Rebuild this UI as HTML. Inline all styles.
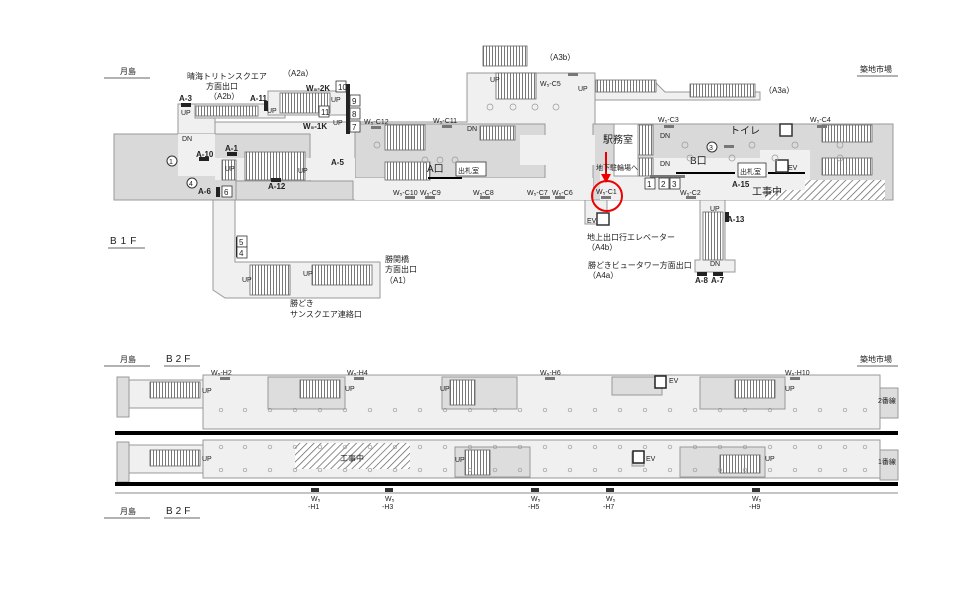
<!DOCTYPE html>
<html><head><meta charset="utf-8"><style>
html,body{margin:0;padding:0;background:#fff}
svg{display:block}
text{font-family:"Liberation Sans","Noto Sans CJK JP",sans-serif;fill:#222}
.s{font-size:7px}.m{font-size:8px}.b{font-size:8px;font-weight:bold}.l{font-size:10px}
</style></head><body>
<svg width="960" height="605" viewBox="0 0 960 605" xmlns="http://www.w3.org/2000/svg">
<defs>
<pattern id="h" width="5" height="5" patternUnits="userSpaceOnUse" patternTransform="rotate(45)"><rect width="5" height="5" fill="#fff"/><line x1="0" y1="0" x2="0" y2="5" stroke="#666" stroke-width="1.5"/></pattern>
<pattern id="st" width="3" height="10" patternUnits="userSpaceOnUse"><rect width="3" height="10" fill="#fff"/><line x1="0.5" y1="0" x2="0.5" y2="10" stroke="#555" stroke-width="0.8"/></pattern>
</defs>
<g fill="#f0f0f0" stroke="#999" stroke-width="1">
<rect x="178" y="104" width="37" height="72"/>
<rect x="195" y="104" width="90" height="14"/>
<rect x="268" y="91" width="80" height="24"/>
<path d="M467 73 H595 V124 H880 V200 H215 V122 H467 Z"/>
<path d="M595 82 H655 L665 92 H760 V100 H595 Z"/>
<path d="M213 200 H235 V262 H380 V298 H225 L213 290 Z"/>
<rect x="585" y="200" width="22" height="24"/>
<path d="M700 200 H725 V260 H735 V272 H695 V260 H700 Z"/>
</g>
<g fill="#d9d9d9" stroke="#999">
<rect x="114" y="134" width="196" height="66"/>
<rect x="236" y="181" width="117" height="19"/>
<rect x="355" y="124" width="190" height="54"/>
<rect x="593" y="124" width="300" height="76"/>
</g>
<g fill="#f0f0f0" stroke="none">
<rect x="178" y="134" width="37" height="42"/>
<rect x="215" y="158" width="140" height="22"/>
<rect x="355" y="178" width="238" height="22"/>
<rect x="520" y="135" width="75" height="30"/>
<rect x="640" y="158" width="120" height="12"/>
<rect x="600" y="170" width="170" height="30"/>
<rect x="760" y="150" width="50" height="30"/>
</g>
<rect x="765" y="180" width="120" height="20" fill="url(#h)" stroke="none"/>
<rect x="765" y="180" width="40" height="10" fill="#f0f0f0"/>
<g stroke="#666" stroke-width="0.8">
<rect x="196" y="106" width="62" height="10" fill="url(#st)"/>
<rect x="280" y="93" width="50" height="20" fill="url(#st)"/>
<rect x="245" y="152" width="60" height="28" fill="url(#st)"/>
<rect x="222" y="160" width="14" height="20" fill="url(#st)"/>
<rect x="250" y="265" width="40" height="30" fill="url(#st)"/>
<rect x="312" y="265" width="60" height="20" fill="url(#st)"/>
<rect x="385" y="125" width="40" height="25" fill="url(#st)"/>
<rect x="385" y="162" width="45" height="18" fill="url(#st)"/>
<rect x="480" y="126" width="35" height="14" fill="url(#st)"/>
<rect x="483" y="46" width="44" height="20" fill="url(#st)"/>
<rect x="496" y="73" width="40" height="26" fill="url(#st)"/>
<rect x="596" y="80" width="60" height="12" fill="url(#st)"/>
<rect x="690" y="84" width="65" height="13" fill="url(#st)"/>
<rect x="638" y="125" width="15" height="30" fill="url(#st)"/>
<rect x="638" y="158" width="15" height="18" fill="url(#st)"/>
<rect x="822" y="125" width="50" height="17" fill="url(#st)"/>
<rect x="822" y="158" width="50" height="17" fill="url(#st)"/>
<rect x="703" y="212" width="20" height="48" fill="url(#st)"/>
</g>
<rect x="614" y="124" width="24" height="52" fill="#fff" stroke="#999"/>
<path d="M676 173 H735 M768 173 H805" stroke="#000" stroke-width="2"/>
<path d="M428 178 H462" stroke="#000" stroke-width="2"/>
<g fill="#222">
<rect x="181" y="103" width="10" height="4"/><rect x="264" y="101" width="4" height="10"/>
<rect x="199" y="157" width="10" height="4"/><rect x="227" y="152" width="10" height="4"/>
<rect x="271" y="178" width="10" height="4"/><rect x="216" y="187" width="4" height="10"/>
<rect x="236" y="237" width="4" height="20"/><rect x="346" y="84" width="4" height="50"/>
<rect x="725" y="212" width="4" height="10"/><rect x="697" y="272" width="10" height="4"/><rect x="713" y="272" width="10" height="4"/>
</g>
<g fill="#777">
<rect x="371" y="126" width="10" height="3"/><rect x="442" y="125" width="10" height="3"/><rect x="568" y="73" width="10" height="3"/>
<rect x="405" y="196" width="10" height="3"/><rect x="425" y="196" width="10" height="3"/><rect x="480" y="196" width="10" height="3"/>
<rect x="540" y="196" width="10" height="3"/><rect x="555" y="196" width="10" height="3"/><rect x="601" y="196" width="10" height="3"/>
<rect x="686" y="196" width="10" height="3"/><rect x="664" y="125" width="10" height="3"/><rect x="817" y="125" width="10" height="3"/>
<rect x="650" y="175" width="35" height="3"/><rect x="724" y="145" width="10" height="3"/>
</g>
<g fill="#fff" stroke="#333" stroke-width="0.8">
<rect x="336" y="81" width="10" height="11"/><rect x="350" y="95" width="10" height="11"/><rect x="319" y="106" width="10" height="11"/>
<rect x="350" y="108" width="10" height="11"/><rect x="350" y="121" width="10" height="11"/><rect x="222" y="186" width="10" height="11"/>
<rect x="237" y="236" width="10" height="11"/><rect x="237" y="247" width="10" height="11"/>
<rect x="645" y="178" width="10" height="11"/><rect x="659" y="178" width="10" height="11"/><rect x="670" y="178" width="10" height="11"/>
<rect x="597" y="213" width="12" height="12" stroke-width="1.5"/><rect x="780" y="124" width="12" height="12" stroke-width="1.5"/><rect x="776" y="160" width="12" height="12" stroke-width="1.5"/>
<rect x="456" y="162" width="30" height="14"/><rect x="738" y="163" width="28" height="14"/>
</g>
<g class="m">
<text x="338" y="90">10</text><text x="352" y="104">9</text><text x="321" y="115">11</text><text x="352" y="117">8</text><text x="352" y="130">7</text>
<text x="224" y="195">6</text><text x="239" y="245">5</text><text x="239" y="256">4</text>
<text x="647" y="187">1</text><text x="661" y="187">2</text><text x="672" y="187">3</text>
</g>
<g fill="#fff" stroke="#333"><circle cx="172" cy="161" r="5"/><circle cx="192" cy="183" r="5"/><circle cx="712" cy="147" r="5"/></g>
<g class="s"><text x="169" y="164">1</text><text x="189" y="186">4</text><text x="709" y="150">3</text></g>
<circle cx="607" cy="196" r="15" fill="none" stroke="#e00" stroke-width="2"/>
<path d="M606 152 V176" stroke="#e00" stroke-width="2"/><path d="M601 174 L606 183 L611 174 Z" fill="#e00"/>
<g class="m">
<text x="120" y="74">月島</text><line x1="104" y1="78" x2="150" y2="78" stroke="#333" stroke-width="0.7"/>
<text x="187" y="79">晴海トリトンスクエア</text><text x="206" y="89">方面出口</text><text x="209" y="99">（A2b）</text>
<text x="283" y="76">（A2a）</text><text x="545" y="60">（A3b）</text><text x="764" y="93">（A3a）</text>
<text x="860" y="72">築地市場</text><line x1="857" y1="76" x2="898" y2="76" stroke="#333" stroke-width="0.7"/>
<text x="385" y="262">勝関橋</text><text x="385" y="272">方面出口</text><text x="385" y="283">（A1）</text>
<text x="290" y="306">勝どき</text><text x="290" y="317">サンスクエア連絡口</text>
<text x="587" y="240">地上出口行エレベーター</text><text x="587" y="250">（A4b）</text>
<text x="588" y="268">勝どきビュータワー方面出口</text><text x="588" y="278">（A4a）</text>
<text x="603" y="143" style="font-size:10px">駅務室</text><text x="730" y="134" style="font-size:10px">トイレ</text>
<text x="752" y="195" style="font-size:10px">工事中</text><text x="427" y="172" style="font-size:10px">A口</text><text x="690" y="164" style="font-size:10px">B口</text>
<text x="458" y="173" class="s">出札室</text><text x="740" y="174" class="s">出札室</text><text x="596" y="170" class="s">地下駐輪場へ</text>
<text x="181" y="115" class="s">UP</text><text x="267" y="113" class="s">UP</text><text x="331" y="102" class="s">UP</text><text x="333" y="125" class="s">UP</text>
<text x="182" y="141" class="s">DN</text><text x="225" y="171" class="s">UP</text><text x="298" y="173" class="s">UP</text>
<text x="242" y="282" class="s">UP</text><text x="303" y="276" class="s">UP</text><text x="467" y="131" class="s">DN</text><text x="490" y="82" class="s">UP</text><text x="578" y="91" class="s">UP</text>
<text x="660" y="138" class="s">DN</text><text x="660" y="166" class="s">DN</text><text x="788" y="170" class="s">EV</text><text x="587" y="223" class="s">EV</text>
<text x="710" y="211" class="s">UP</text><text x="710" y="266" class="s">DN</text>
<text x="110" y="244" style="font-size:10px;letter-spacing:4px">B1F</text><line x1="108" y1="248" x2="145" y2="248" stroke="#333" stroke-width="0.7"/>
</g>
<g class="b">
<text x="179" y="101">A-3</text><text x="250" y="101">A-11</text><text x="306" y="91">W₅-2K</text><text x="303" y="129">W₅-1K</text>
<text x="196" y="157">A-10</text><text x="225" y="151">A-1</text><text x="268" y="189">A-12</text><text x="198" y="194">A-6</text>
<text x="331" y="165">A-5</text><text x="732" y="187">A-15</text><text x="727" y="222">A-13</text><text x="695" y="283">A-8</text><text x="711" y="283">A-7</text>
</g>
<g class="s">
<text x="364" y="124">W₅-C12</text><text x="433" y="123">W₅-C11</text><text x="540" y="86">W₅-C5</text><text x="658" y="122">W₅-C3</text><text x="810" y="122">W₅-C4</text>
<text x="393" y="195">W₅-C10</text><text x="420" y="195">W₅-C9</text><text x="473" y="195">W₅-C8</text><text x="527" y="195">W₅-C7</text><text x="552" y="195">W₅-C6</text>
<text x="596" y="194">W₅-C1</text><text x="680" y="195">W₅-C2</text>
</g>
<g class="m">
<text x="120" y="362">月島</text><line x1="104" y1="366" x2="150" y2="366" stroke="#333" stroke-width="0.7"/>
<text x="166" y="362" style="font-size:10px;letter-spacing:3px">B2F</text><line x1="164" y1="366" x2="200" y2="366" stroke="#333" stroke-width="0.7"/>
<text x="860" y="362">築地市場</text><line x1="857" y1="366" x2="898" y2="366" stroke="#333" stroke-width="0.7"/>
<text x="120" y="514">月島</text><line x1="104" y1="518" x2="150" y2="518" stroke="#333" stroke-width="0.7"/>
<text x="166" y="514" style="font-size:10px;letter-spacing:3px">B2F</text><line x1="164" y1="518" x2="200" y2="518" stroke="#333" stroke-width="0.7"/>
</g>
<g fill="#f0f0f0" stroke="#999">
<rect x="203" y="375" width="677" height="54"/>
<rect x="203" y="440" width="677" height="38"/>
<rect x="117" y="377" width="12" height="40" fill="#ddd"/><rect x="129" y="380" width="74" height="28"/>
<rect x="117" y="442" width="12" height="40" fill="#ddd"/><rect x="129" y="445" width="74" height="28"/>
<rect x="880" y="388" width="18" height="30" fill="#ddd"/><rect x="880" y="450" width="18" height="30" fill="#ddd"/>
<rect x="268" y="377" width="77" height="32" fill="#ddd"/><rect x="442" y="377" width="75" height="32" fill="#ddd"/>
<rect x="612" y="377" width="50" height="18" fill="#ddd"/><rect x="700" y="377" width="85" height="32" fill="#ddd"/>
<rect x="455" y="447" width="75" height="30" fill="#ddd"/><rect x="680" y="447" width="85" height="30" fill="#ddd"/>
<rect x="632" y="452" width="12" height="14" fill="#ddd"/>
</g>
<g stroke="#666" stroke-width="0.8">
<rect x="150" y="382" width="50" height="16" fill="url(#st)"/><rect x="150" y="450" width="50" height="16" fill="url(#st)"/>
<rect x="300" y="380" width="40" height="18" fill="url(#st)"/><rect x="450" y="380" width="25" height="25" fill="url(#st)"/>
<rect x="735" y="380" width="40" height="18" fill="url(#st)"/><rect x="465" y="450" width="25" height="25" fill="url(#st)"/>
<rect x="720" y="455" width="40" height="18" fill="url(#st)"/>
</g>
<rect x="295" y="443" width="115" height="26" fill="url(#h)"/>
<g fill="#fff" stroke="#222" stroke-width="1.5"><rect x="655" y="376" width="11" height="12"/><rect x="633" y="451" width="11" height="12"/></g>
<g stroke="#000" stroke-width="4"><line x1="115" y1="433" x2="898" y2="433"/><line x1="115" y1="484" x2="898" y2="484"/></g>
<line x1="115" y1="493" x2="898" y2="493" stroke="#888" stroke-width="1"/>
<g fill="#333"><rect x="311" y="488" width="8" height="4"/><rect x="385" y="488" width="8" height="4"/><rect x="531" y="488" width="8" height="4"/><rect x="606" y="488" width="8" height="4"/><rect x="752" y="488" width="8" height="4"/></g>
<g fill="#777"><rect x="220" y="377" width="10" height="3"/><rect x="354" y="377" width="10" height="3"/><rect x="545" y="377" width="10" height="3"/><rect x="790" y="377" width="10" height="3"/></g>
<g class="s">
<text x="211" y="375">W₅-H2</text><text x="347" y="375">W₅-H4</text><text x="540" y="375">W₅-H6</text><text x="785" y="375">W₅-H10</text>
<text x="311" y="501">W₅</text><text x="308" y="509">-H1</text><text x="385" y="501">W₅</text><text x="382" y="509">-H3</text>
<text x="531" y="501">W₅</text><text x="528" y="509">-H5</text><text x="606" y="501">W₅</text><text x="603" y="509">-H7</text>
<text x="752" y="501">W₅</text><text x="749" y="509">-H9</text>
<text x="202" y="393">UP</text><text x="345" y="391">UP</text><text x="440" y="391">UP</text><text x="669" y="383">EV</text><text x="785" y="391">UP</text>
<text x="202" y="461">UP</text><text x="455" y="462">UP</text><text x="646" y="461">EV</text><text x="765" y="461">UP</text>
<text x="340" y="461" style="font-size:8px">工事中</text>
<text x="878" y="403" style="font-size:7px">2番線</text><text x="878" y="464" style="font-size:7px">1番線</text>
</g>
<g fill="none" stroke="#999" stroke-width="0.7">
<g id="r1"><circle cx="221" cy="410" r="1.8"/><circle cx="245" cy="410" r="1.8"/><circle cx="270" cy="410" r="1.8"/><circle cx="295" cy="410" r="1.8"/><circle cx="320" cy="410" r="1.8"/><circle cx="345" cy="410" r="1.8"/><circle cx="370" cy="410" r="1.8"/><circle cx="395" cy="410" r="1.8"/><circle cx="420" cy="410" r="1.8"/><circle cx="445" cy="410" r="1.8"/><circle cx="470" cy="410" r="1.8"/><circle cx="495" cy="410" r="1.8"/><circle cx="520" cy="410" r="1.8"/><circle cx="545" cy="410" r="1.8"/><circle cx="570" cy="410" r="1.8"/><circle cx="595" cy="410" r="1.8"/><circle cx="620" cy="410" r="1.8"/><circle cx="645" cy="410" r="1.8"/><circle cx="670" cy="410" r="1.8"/><circle cx="695" cy="410" r="1.8"/><circle cx="720" cy="410" r="1.8"/><circle cx="745" cy="410" r="1.8"/><circle cx="770" cy="410" r="1.8"/><circle cx="795" cy="410" r="1.8"/><circle cx="820" cy="410" r="1.8"/><circle cx="845" cy="410" r="1.8"/><circle cx="865" cy="410" r="1.8"/></g>
<use href="#r1" y="37"/><use href="#r1" y="60"/>
<circle cx="377" cy="145" r="3"/><circle cx="425" cy="160" r="3"/><circle cx="440" cy="160" r="3"/><circle cx="455" cy="160" r="3"/>
<circle cx="490" cy="107" r="3"/><circle cx="513" cy="107" r="3"/><circle cx="535" cy="107" r="3"/><circle cx="556" cy="107" r="3"/>
<circle cx="685" cy="145" r="3"/><circle cx="752" cy="145" r="3"/><circle cx="795" cy="145" r="3"/><circle cx="840" cy="145" r="3"/>
<circle cx="690" cy="158" r="3"/><circle cx="732" cy="158" r="3"/><circle cx="775" cy="158" r="3"/><circle cx="840" cy="158" r="3"/>
</g>
</svg>
</body></html>
